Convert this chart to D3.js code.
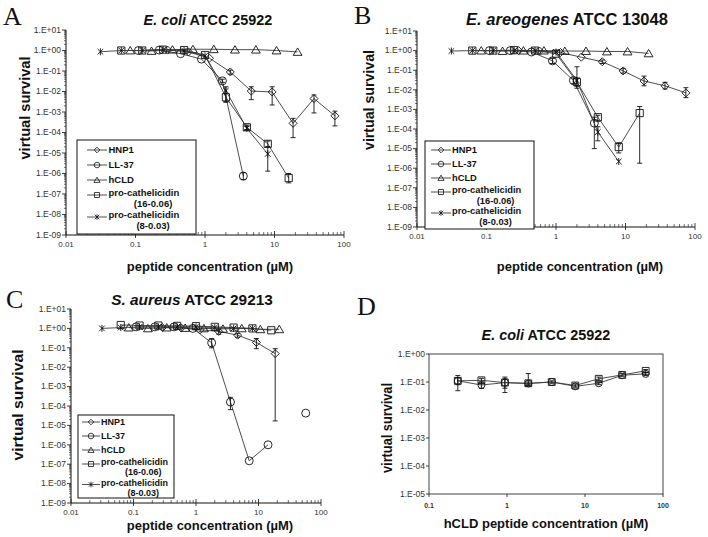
<!DOCTYPE html>
<html><head><meta charset="utf-8">
<script src="https://cdn.jsdelivr.net/npm/d3@7"></script>
<style>body{margin:0;background:#fff}svg{display:block}text{font-family:"Liberation Sans",Arial,sans-serif;fill:#111}</style>
</head><body><svg id="c" width="708" height="537"></svg>
<script>
// ---------------- DATA ----------------
const seriesNames = ["HNP1", "LL-37", "hCLD", "pro-cathelicidin", "pro-cathelicidin"];
const seriesSub   = [null, null, null, "(16-0.06)", "(8-0.03)"];
const seriesMarks = ["diamond", "circle", "triangle", "square", "star"];

// concentrations (µM)
const concHNP1  = [0.29, 0.58, 1.16, 2.31, 4.63, 9.25, 18.5, 37, 74];
const concLL37  = [0.11, 0.22, 0.445, 0.89, 1.78, 3.56, 7.1, 14.2, 28.5, 57];
const concHCLD  = [0.084, 0.17, 0.34, 0.67, 1.34, 2.7, 5.4, 10.7, 21.5];
const concPro16 = [0.0625, 0.125, 0.25, 0.5, 1, 2, 4, 8, 16];
const concPro8  = [0.03125, 0.0625, 0.125, 0.25, 0.5, 1, 2, 4, 8];
const concD     = [0.234, 0.47, 0.94, 1.875, 3.75, 7.5, 15, 30, 60];

// Panel A: E. coli ATCC 25922
const A_hnp1  = [1.05, 0.85, 0.42, 0.09, 0.0105, 0.0095, 2.8e-4, 4.5e-3, 6.5e-4];
const A_ll37  = [1.0, 1.05, 0.7, 0.38, 0.033, 7.5e-7, null, null, null, null];
const A_hcld  = [1.0, 0.95, 1.1, 1.15, 1.15, 1.1, 1.1, 1.0, 0.85];
const A_pro16 = [1.0, 1.0, 1.1, 1.05, 0.6, 5.2e-3, 1.8e-4, 2.8e-5, 6e-7];
const A_pro8  = [0.87, 1.0, 1.0, 1.1, 1.0, 0.55, 0.011, 1.6e-4, 9e-6];
const A_hnp1_err  = [null, null, null, [0.07, 0.11], [0.004, 0.017], [0.0022, 0.017], [5.6e-5, 4.9e-4], [9e-4, 6.8e-3], [2.1e-4, 1.1e-3]];
const A_ll37_err  = [null, null, null, null, [0.028, 0.04], [5e-7, 1.1e-6], null, null, null, null];
const A_pro16_err = [null, null, null, null, null, [3e-3, 8e-3], [1.4e-4, 2.3e-4], [2e-5, 3.8e-5], [3.5e-7, 1e-6]];
const A_pro8_err  = [null, null, null, null, null, null, [3.2e-3, 0.017], [1.3e-4, 2e-4], [1.3e-6, 2e-5]];

// Panel B: E. areogenes ATCC 13048
const B_hnp1  = [1.0, 0.95, 0.8, 0.46, 0.27, 0.092, 0.028, 0.016, 0.007];
const B_ll37  = [1.0, 1.0, 0.85, 0.3, 0.03, 2e-4, null, null, null, null];
const B_hcld  = [1.0, 0.95, 1.0, 1.0, 0.95, 0.95, 0.9, 0.9, 0.72];
const B_pro16 = [1.0, 1.0, 1.05, 1.0, 0.7, 0.025, 4e-4, 1.2e-5, 6.5e-4];
const B_pro8  = [0.95, 1.0, 1.0, 1.0, 1.0, 0.85, 0.03, 7e-5, 2.2e-6];
const B_hnp1_err  = [null, null, null, null, [0.22, 0.33], [0.07, 0.12], [0.016, 0.05], [0.011, 0.024], [0.004, 0.0128]];
const B_ll37_err  = [null, null, null, [0.22, 0.4], [0.02, 0.04], [1e-5, 4e-4], null, null, null, null];
const B_pro16_err = [null, null, null, null, null, [0.012, 0.04], [2.5e-4, 5e-4], [6e-6, 2e-5], [1.8e-6, 1.4e-3]];
const B_pro8_err  = [null, null, null, null, null, null, [0.015, 0.15], [2.5e-5, 1.3e-4], null];

// Panel C: S. aureus ATCC 29213
const C_hnp1  = [1.1, 1.05, 0.85, 0.7, 0.45, 0.19, 0.05, null, null];
const C_ll37  = [1.2, 1.2, 1.2, 1.0, 0.18, 1.6e-4, 1.5e-7, 1e-6, null, 4.3e-5];
const C_hcld  = [1.1, 1.0, 1.1, 1.05, 1.0, 0.95, 1.0, 0.9, 0.9];
const C_pro16 = [1.5, 1.4, 1.4, 1.35, 1.3, 1.2, 1.1, 1.0, 0.8];
const C_pro8  = [1.0, 1.1, 1.2, 1.2, 1.2, 1.2, 1.1, 1.0, 1.0];
const C_hnp1_err = [null, null, null, [0.5, 0.9], [0.35, 0.55], [0.09, 0.3], [1.7e-5, 0.09], null, null];
const C_ll37_err = [null, null, null, null, [0.1, 0.3], [6.5e-5, 2.8e-4], null, null, null, null];

// Panel D: E. coli ATCC 25922, hCLD only
const D_circ = [0.11, 0.078, 0.095, 0.088, 0.1, 0.07, 0.09, 0.175, 0.195];
const D_sq   = [0.11, 0.115, 0.095, 0.09, 0.1, 0.075, 0.13, 0.18, 0.25];
const D_sq_err   = [[0.049, 0.17], [0.09, 0.135], [0.042, 0.15], [0.08, 0.2], [0.09, 0.11], [0.065, 0.085], [0.11, 0.15], [0.16, 0.2], [0.22, 0.28]];
const D_circ_err = [[0.08, 0.14], [0.059, 0.1], [0.06, 0.13], [0.075, 0.1], null, null, [0.08, 0.1], null, [0.17, 0.22]];

const xTicksMain = [0.01, 0.1, 1, 10, 100];
const xTicksD = [0.1, 1, 10, 100];
const xTitle = "peptide concentration (µM)";
const xTitleD = "hCLD peptide concentration (µM)";
const yTitle = "virtual survival";

// ---------------- DRAWING ----------------
const svg = d3.select("#c");
const LINE = "#3a3a3a", INK = "#111";

const markerPath = {
  diamond: s => `M0,${-s}L${s},0L0,${s}L${-s},0Z`,
  circle: s => `M${-s},0A${s},${s} 0 1,0 ${s},0A${s},${s} 0 1,0 ${-s},0Z`,
  triangle: s => `M0,${-s}L${s * 1.1},${s * 0.85}L${-s * 1.1},${s * 0.85}Z`,
  square: s => `M${-s * 0.9},${-s * 0.9}H${s * 0.9}V${s * 0.9}H${-s * 0.9}Z`,
  star: s => `M${-s * 0.8},${-s * 0.8}L${s * 0.8},${s * 0.8}M${-s * 0.8},${s * 0.8}L${s * 0.8},${-s * 0.8}M0,${-s}V${s}`
};

function yFmt(v) {
  const k = Math.round(Math.log10(v));
  return "1.E" + (k >= 0 ? "+" : "-") + String(Math.abs(k)).padStart(2, "0");
}

function drawSeries(g, x, y, s, mSize) {
  const pts = s.conc.map((c, i) => ({ c, v: s.y[i], e: s.err ? s.err[i] : null }));
  const line = d3.line().defined(d => d.v != null).x(d => x(d.c)).y(d => y(d.v));
  g.append("path").attr("d", line(pts)).attr("fill", "none").attr("stroke", LINE).attr("stroke-width", 0.9);
  const [yb, yt] = y.range();
  pts.filter(d => d.v != null && d.e).forEach(d => {
    const px = x(d.c);
    const lo = Math.min(yb, y(d.e[0])), hi = Math.max(yt, y(d.e[1]));
    g.append("line").attr("x1", px).attr("x2", px).attr("y1", lo).attr("y2", hi).attr("stroke", INK).attr("stroke-width", 0.9);
    [lo, hi].forEach(yy => g.append("line").attr("x1", px - 2.5).attr("x2", px + 2.5).attr("y1", yy).attr("y2", yy).attr("stroke", INK).attr("stroke-width", 0.9));
  });
  g.selectAll(null).data(pts.filter(d => d.v != null)).enter().append("path")
    .attr("transform", d => `translate(${x(d.c)},${y(d.v)})`)
    .attr("d", markerPath[s.m](mSize[s.m]))
    .attr("fill", "none").attr("stroke", INK).attr("stroke-width", 0.9);
}

const mSizes = { diamond: 4, circle: 4, triangle: 4, square: 4, star: 3.5 };

function title(t) {
  const tx = svg.append("text").attr("x", t.x).attr("y", t.y).attr("text-anchor", "middle")
    .attr("font-weight", "bold").attr("font-size", t.size);
  tx.append("tspan").attr("font-style", "italic").text(t.it);
  tx.append("tspan").text(t.rest);
}

function yLabel(p) {
  svg.append("text").attr("transform", `translate(${p.x},${p.y}) rotate(-90)`)
    .attr("text-anchor", "middle").attr("dominant-baseline", "central")
    .attr("font-weight", "bold").attr("font-size", 14)
    .attr("textLength", p.len).attr("lengthAdjust", "spacingAndGlyphs").text(yTitle);
}

function letter(l) {
  svg.append("text").attr("x", l.x).attr("y", l.y).attr("font-size", 26)
    .style("font-family", '"Liberation Serif","Times New Roman",serif').text(l.t);
}

function logPanel(cfg) {
  const x = d3.scaleLog().domain([0.01, 100]).range(cfg.xr);
  const y = d3.scaleLog().domain([1e-9, 10]).range(cfg.yr);
  const g = svg.append("g");
  const [x0, x1] = cfg.xr, [yb, yt] = cfg.yr;
  g.append("line").attr("x1", x0).attr("x2", x0).attr("y1", yb).attr("y2", yt).attr("stroke", INK);
  g.append("line").attr("x1", x0).attr("x2", x1).attr("y1", yb).attr("y2", yb).attr("stroke", INK);
  const yMaj = d3.range(-9, 2).map(k => Math.pow(10, k));
  yMaj.forEach(v => {
    g.append("line").attr("x1", x0 - 4).attr("x2", x0).attr("y1", y(v)).attr("y2", y(v)).attr("stroke", INK).attr("stroke-width", 0.8);
    g.append("text").attr("x", x0 - 5).attr("y", y(v)).attr("dy", "0.33em").attr("text-anchor", "end")
      .attr("font-size", 8.5).style("fill", "#333").text(yFmt(v));
    if (v < 10) for (let m = 2; m <= 9; m++) {
      const yy = y(v * m);
      g.append("line").attr("x1", x0 - 2).attr("x2", x0).attr("y1", yy).attr("y2", yy).attr("stroke", INK).attr("stroke-width", 0.6);
    }
  });
  xTicksMain.forEach(v => {
    g.append("line").attr("x1", x(v)).attr("x2", x(v)).attr("y1", yb - 4).attr("y2", yb + 3).attr("stroke", INK).attr("stroke-width", 0.8);
    g.append("text").attr("x", x(v)).attr("y", yb + 12).attr("text-anchor", "middle")
      .attr("font-size", 8).style("fill", "#333").text(String(v));
    if (v < 100) for (let m = 2; m <= 9; m++) {
      const xx = x(v * m);
      g.append("line").attr("x1", xx).attr("x2", xx).attr("y1", yb - 3).attr("y2", yb).attr("stroke", INK).attr("stroke-width", 0.6);
    }
  });
  cfg.series.forEach(s => drawSeries(g, x, y, s, mSizes));
  const L = cfg.legend;
  g.append("rect").attr("x", L.x).attr("y", L.y).attr("width", L.w).attr("height", L.h)
    .attr("fill", "#fff").attr("stroke", INK).attr("stroke-width", 1);
  seriesNames.forEach((nm, i) => {
    const cy = L.rows[i];
    g.append("line").attr("x1", L.sx0).attr("x2", L.sx1).attr("y1", cy).attr("y2", cy).attr("stroke", LINE).attr("stroke-width", 0.9);
    g.append("path").attr("transform", `translate(${(L.sx0 + L.sx1) / 2},${cy})`)
      .attr("d", markerPath[seriesMarks[i]](2.8)).attr("fill", "none").attr("stroke", INK).attr("stroke-width", 0.8);
    const base = cy + L.fs * 0.36 - (seriesSub[i] ? 2 : 0);
    const t = g.append("text").attr("x", L.tx).attr("y", base).attr("font-weight", "bold")
      .attr("font-size", L.fs).text(nm);
    if (seriesSub[i]) {
      const w = t.node().getComputedTextLength();
      g.append("text").attr("x", L.tx + w * 0.63).attr("y", base + L.gap).attr("text-anchor", "middle")
        .attr("font-weight", "bold").attr("font-size", L.fs).text(seriesSub[i]);
    }
  });
  title(cfg.title);
  svg.append("text").attr("x", cfg.xl.x).attr("y", cfg.xl.y).attr("text-anchor", "middle")
    .attr("font-weight", "bold").attr("font-size", 13).text(xTitle);
  yLabel(cfg.yl);
  letter(cfg.letter);
}

function mk(conc, yv, err, i) { return { conc, y: yv, err, m: seriesMarks[i] }; }

logPanel({
  xr: [66, 344], yr: [235, 30],
  series: [mk(concHNP1, A_hnp1, A_hnp1_err, 0), mk(concLL37, A_ll37, A_ll37_err, 1), mk(concHCLD, A_hcld, null, 2),
           mk(concPro16, A_pro16, A_pro16_err, 3), mk(concPro8, A_pro8, A_pro8_err, 4)],
  legend: { x: 77, y: 140, w: 119, h: 94, rows: [150, 165, 180, 195, 217], sx0: 87, sx1: 107, tx: 108.5, fs: 9.5, gap: 11 },
  title: { x: 208, y: 25, size: 14.4, it: "E. coli", rest: " ATCC 25922" },
  xl: { x: 210, y: 271 }, yl: { x: 25, y: 108, len: 103 }, letter: { x: 3, y: 25, t: "A" }
});

logPanel({
  xr: [417, 695], yr: [227, 31],
  series: [mk(concHNP1, B_hnp1, B_hnp1_err, 0), mk(concLL37, B_ll37, B_ll37_err, 1), mk(concHCLD, B_hcld, null, 2),
           mk(concPro16, B_pro16, B_pro16_err, 3), mk(concPro8, B_pro8, B_pro8_err, 4)],
  legend: { x: 425, y: 141, w: 109, h: 88, rows: [150, 164, 178, 192, 213], sx0: 431, sx1: 451, tx: 452, fs: 9.3, gap: 10.5 },
  title: { x: 567, y: 25, size: 16.5, it: "E. areogenes", rest: " ATCC 13048" },
  xl: { x: 580, y: 271 }, yl: { x: 369, y: 100, len: 100 }, letter: { x: 354, y: 24, t: "B" }
});

logPanel({
  xr: [71, 321], yr: [503, 309],
  series: [mk(concHNP1, C_hnp1, C_hnp1_err, 0), mk(concLL37, C_ll37, C_ll37_err, 1), mk(concHCLD, C_hcld, null, 2),
           mk(concPro16, C_pro16, null, 3), mk(concPro8, C_pro8, null, 4)],
  legend: { x: 78, y: 415, w: 96, h: 83, rows: [422, 436, 450, 464, 484.5], sx0: 82, sx1: 100, tx: 101, fs: 9, gap: 10 },
  title: { x: 192, y: 305, size: 15.4, it: "S. aureus", rest: " ATCC 29213" },
  xl: { x: 210, y: 530 }, yl: { x: 18, y: 405, len: 111 }, letter: { x: 6, y: 308, t: "C" }
});

// Panel D
(function () {
  const x = d3.scaleLog().domain([0.1, 100]).range([429, 663]);
  const y = d3.scaleLog().domain([1e-5, 1]).range([494, 354]);
  const g = svg.append("g");
  g.append("rect").attr("x", 429).attr("y", 354).attr("width", 234).attr("height", 140)
    .attr("fill", "none").attr("stroke", "#444").attr("stroke-width", 1);
  d3.range(-5, 1).map(k => Math.pow(10, k)).forEach(v => {
    g.append("line").attr("x1", 426).attr("x2", 429).attr("y1", y(v)).attr("y2", y(v)).attr("stroke", INK).attr("stroke-width", 0.8);
    g.append("text").attr("x", 425).attr("y", y(v)).attr("dy", "0.33em").attr("text-anchor", "end")
      .attr("font-size", 8.5).style("fill", "#333").text(yFmt(v));
  });
  xTicksD.forEach(v => {
    g.append("line").attr("x1", x(v)).attr("x2", x(v)).attr("y1", 494).attr("y2", 497).attr("stroke", INK).attr("stroke-width", 0.8);
    g.append("text").attr("x", x(v)).attr("y", 508).attr("text-anchor", "middle").attr("font-weight", "bold")
      .attr("font-size", 7).style("fill", "#333").text(String(v));
  });
  drawSeries(g, x, y, { conc: concD, y: D_circ, err: D_circ_err, m: "circle" }, { circle: 3.5 });
  drawSeries(g, x, y, { conc: concD, y: D_sq, err: D_sq_err, m: "square" }, { square: 3.8 });
  title({ x: 546, y: 340, size: 14.4, it: "E. coli", rest: " ATCC 25922" });
  svg.append("text").attr("x", 546).attr("y", 528).attr("text-anchor", "middle")
    .attr("font-weight", "bold").attr("font-size", 13).text(xTitleD);
  yLabel({ x: 387, y: 428, len: 90 });
  letter({ x: 357, y: 315, t: "D" });
})();
</script></body></html>
